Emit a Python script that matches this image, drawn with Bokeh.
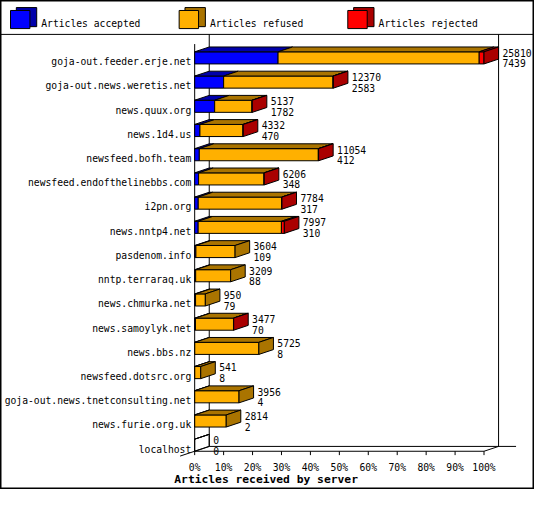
from bokeh.plotting import figure
from bokeh.models import Range1d, ColumnDataSource
from bokeh.embed import file_html
from bokeh.resources import INLINE
from bokeh.core.properties import value

# ---------------- data ----------------
servers = [
    "goja-out.feeder.erje.net",
    "goja-out.news.weretis.net",
    "news.quux.org",
    "news.1d4.us",
    "newsfeed.bofh.team",
    "newsfeed.endofthelinebbs.com",
    "i2pn.org",
    "news.nntp4.net",
    "pasdenom.info",
    "nntp.terraraq.uk",
    "news.chmurka.net",
    "news.samoylyk.net",
    "news.bbs.nz",
    "newsfeed.dotsrc.org",
    "goja-out.news.tnetconsulting.net",
    "news.furie.org.uk",
    "localhost",
]
offered = [25810, 12370, 5137, 4332, 11054, 6206, 7784, 7997, 3604, 3209, 950, 3477, 5725, 541, 3956, 2814, 0]
accepted = [7439, 2583, 1782, 470, 412, 348, 317, 310, 109, 88, 79, 70, 8, 8, 4, 2, 0]
rejected = [430, 30, 25, 20, 25, 20, 20, 260, 0, 0, 0, 15, 0, 0, 0, 0, 0]
refused = [o - a - r for o, a, r in zip(offered, accepted, rejected)]

series_names = ["Articles accepted", "Articles refused", "Articles rejected"]
tick_values = [0, 10, 20, 30, 40, 50, 60, 70, 80, 90, 100]
tick_labels = ["0%", "10%", "20%", "30%", "40%", "50%", "60%", "70%", "80%", "90%", "100%"]
x_title = "Articles received by server"

# ---------------- style ----------------
FRONT = ["#0000ff", "#ffb000", "#ff0000"]
DARK = ["#0000aa", "#aa7400", "#aa0000"]
FONT = value("DejaVu Sans Mono")
FS = value("9.7px")

W, H = 534, 489


# reference-pixel helpers (for layout positions only)
def xd(X):
    return (X - 200) / 2.98


def yd(Y):
    return (459.25 - Y) / 25


PX = 1 / 2.98   # one pixel in x data units
PY = 1 / 25     # one pixel in y data units
DX = 15 * PX    # 3D depth
DY = 5 * PY
HALF = 0.25

p = figure(width=W, height=H, x_range=Range1d(xd(0), xd(550)), y_range=Range1d(yd(505), yd(0)),
           output_backend="svg", toolbar_location=None, min_border=0,
           x_axis_location=None, y_axis_location=None)
p.grid.visible = False
p.outline_line_color = "black"
p.outline_line_width = 2
p.background_fill_color = "white"
p.border_fill_color = "white"

n = len(servers)
maxv = max(offered)
top_back = yd(35)
floor_front = -HALF
floor_back = -HALF + DY

# ---------------- frame (3D box) ----------------
seg = dict(x0=[], y0=[], x1=[], y1=[])


def add(x0, y0, x1, y1):
    seg["x0"].append(x0); seg["y0"].append(y0); seg["x1"].append(x1); seg["y1"].append(y1)


add(xd(0), top_back, xd(550), top_back)                  # legend separator
add(DX, floor_back, DX, top_back)                          # back left wall
add(100 + DX, floor_back, 100 + DX, top_back)              # back right wall
add(DX, floor_back, xd(531), floor_back)                   # floor back
add(0, floor_front, 100, floor_front)                      # floor front
add(100, floor_front, 100 + DX, floor_back)                # right diagonal
add(-DX, floor_front - DY, DX, floor_back)                 # left diagonal
add(0, floor_front, 0, top_back - 2 * DY)                  # front left axis
for t in tick_values:
    add(t, floor_front, t, floor_front - 4 * PY)
p.segment(x0="x0", y0="y0", x1="x1", y1="y1", source=ColumnDataSource(seg),
          line_color="black", line_width=1)

# ---------------- bars ----------------
fr = dict(xs=[], ys=[], c=[])
tp = dict(xs=[], ys=[], c=[])
sd = dict(xs=[], ys=[], c=[], a=[])
lab = dict(x=[], y1=[], y2=[], t1=[], t2=[])
for i in range(n):
    yc = n - 1 - i
    b, t = yc - HALF, yc + HALF
    x0 = 0.0
    last_dark = None
    for v, fc, dc in zip((accepted[i], refused[i], rejected[i]), FRONT, DARK):
        if v <= 0:
            continue
        x1 = x0 + v / maxv * 100
        fr["xs"].append([x0, x1, x1, x0]); fr["ys"].append([b, b, t, t]); fr["c"].append(fc)
        tp["xs"].append([x0, x1, x1 + DX, x0 + DX]); tp["ys"].append([t, t, t + DY, t + DY]); tp["c"].append(dc)
        x0 = x1
        last_dark = dc
    if last_dark is None:
        # empty bar: outline only
        tp["xs"].append([0, 0, DX, DX]); tp["ys"].append([t, t, t + DY, t + DY]); tp["c"].append("white")
    sd["xs"].append([x0, x0 + DX, x0 + DX, x0]); sd["ys"].append([b, b + DY, t + DY, t])
    sd["c"].append(last_dark if last_dark else "white"); sd["a"].append(1.0 if last_dark else 0.0)
    lab["x"].append(x0 + DX + 4 * PX)
    lab["y1"].append(yc + 5.25 * PY)
    lab["y2"].append(yc - 5.75 * PY)
    lab["t1"].append(str(offered[i]))
    lab["t2"].append(str(accepted[i]))

p.patches(xs="xs", ys="ys", fill_color="c", line_color="black", line_width=1,
          source=ColumnDataSource(fr))
p.patches(xs="xs", ys="ys", fill_color="c", line_color="black", line_width=1,
          source=ColumnDataSource(tp))
p.patches(xs="xs", ys="ys", fill_color="c", fill_alpha="a", line_color="black", line_width=1,
          source=ColumnDataSource(sd))

ls = ColumnDataSource(lab)
p.text(x="x", y="y1", text="t1", source=ls, text_font=FONT, text_font_size=FS,
       text_baseline="alphabetic", text_align="left", text_color="black")
p.text(x="x", y="y2", text="t2", source=ls, text_font=FONT, text_font_size=FS,
       text_baseline="alphabetic", text_align="left", text_color="black")

# category labels
cat = ColumnDataSource(dict(x=[xd(196.5)] * n, y=[n - 1 - i - 4 * PY for i in range(n)], t=servers))
p.text(x="x", y="y", text="t", source=cat, text_font=FONT, text_font_size=FS,
       text_baseline="alphabetic", text_align="right", text_color="black")

# tick labels
tk = ColumnDataSource(dict(x=tick_values, y=[yd(482)] * len(tick_values), t=tick_labels))
p.text(x="x", y="y", text="t", source=tk, text_font=FONT, text_font_size=FS,
       text_baseline="alphabetic", text_align="center", text_color="black")

# axis title
p.text(x=[xd(179)], y=[yd(495)], text=[x_title], text_font=FONT, text_font_size=value("11.3px"),
       text_font_style="bold", text_baseline="alphabetic", text_align="left", text_color="black")

# ---------------- legend ----------------
lg_back = dict(xs=[], ys=[], c=[])
lg_front = dict(xs=[], ys=[], c=[])
lg_text = dict(x=[], y=[], t=[])
for k, name in enumerate(series_names):
    X0 = 10.3 + 173.7 * k
    lg_back["xs"].append([xd(X0 + 6), xd(X0 + 27), xd(X0 + 27), xd(X0 + 6)])
    lg_back["ys"].append([yd(27), yd(27), yd(7.3), yd(7.3)])
    lg_back["c"].append(DARK[k])
    lg_front["xs"].append([xd(X0), xd(X0 + 20), xd(X0 + 20), xd(X0)])
    lg_front["ys"].append([yd(29), yd(29), yd(10.3), yd(10.3)])
    lg_front["c"].append(FRONT[k])
    lg_text["x"].append(xd(X0 + 31.7))
    lg_text["y"].append(yd(24))
    lg_text["t"].append(name)
p.patches(xs="xs", ys="ys", fill_color="c", line_color="black", line_width=1,
          source=ColumnDataSource(lg_back))
p.patches(xs="xs", ys="ys", fill_color="c", line_color="black", line_width=1,
          source=ColumnDataSource(lg_front))
p.text(x="x", y="y", text="t", source=ColumnDataSource(lg_text), text_font=FONT, text_font_size=FS,
       text_baseline="alphabetic", text_align="left", text_color="black")

open("out.html", "w").write(file_html(p, INLINE))
